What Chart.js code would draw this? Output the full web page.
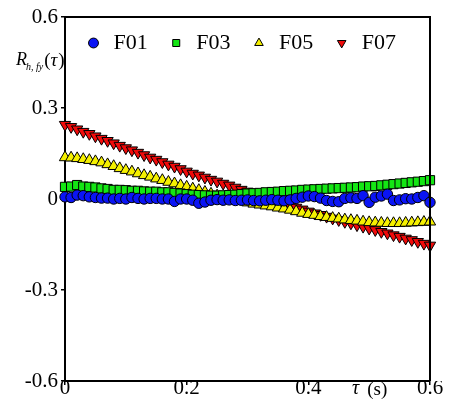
<!DOCTYPE html>
<html>
<head>
<meta charset="utf-8">
<script src="https://cdn.jsdelivr.net/npm/chart.js@4/dist/chart.umd.min.js"></script>
<style>
html,body{margin:0;padding:0;background:#fff;}
canvas{display:block;}
</style>
</head>
<body>
<canvas id="c" width="451" height="405"></canvas>
<script>
const tau = [0.00,0.01,0.02,0.03,0.04,0.05,0.06,0.07,0.08,0.09,0.10,0.11,0.12,0.13,0.14,0.15,0.16,0.17,0.18,0.19,0.20,
  0.21,0.22,0.23,0.24,0.25,0.26,0.27,0.28,0.29,0.30,0.31,0.32,0.33,0.34,0.35,0.36,0.37,0.38,0.39,0.40,
  0.41,0.42,0.43,0.44,0.45,0.46,0.47,0.48,0.49,0.50,0.51,0.52,0.53,0.54,0.55,0.56,0.57,0.58,0.59,0.60];

const F01 = [0.007,0.005,0.013,0.011,0.007,0.005,0.003,0.003,0.000,0.002,0.000,0.005,0.002,0.000,0.002,0.002,0.000,0.000,-0.008,0.000,0.000,
  -0.004,-0.014,-0.010,-0.004,-0.002,-0.004,-0.003,-0.005,-0.004,-0.003,-0.005,-0.006,-0.004,-0.002,-0.004,-0.006,-0.003,0.002,0.006,
  0.010,0.008,0.003,-0.005,-0.008,-0.009,0.002,0.004,0.002,0.011,-0.011,0.006,0.010,0.016,-0.005,-0.003,0.001,0.000,0.005,0.011,-0.011];

const F03 = [0.040,0.041,0.046,0.041,0.040,0.038,0.035,0.033,0.030,0.030,0.029,0.027,0.027,0.025,0.024,0.024,0.022,0.022,0.020,0.018,0.016,
  0.014,0.013,0.012,0.011,0.011,0.012,0.013,0.014,0.016,0.018,0.019,0.020,0.022,0.023,0.024,0.026,0.027,0.028,0.030,
  0.031,0.032,0.033,0.034,0.035,0.036,0.037,0.038,0.039,0.041,0.042,0.043,0.045,0.047,0.049,0.051,0.053,0.055,0.057,0.059,0.062];

const F05 = [0.137,0.136,0.134,0.131,0.128,0.124,0.120,0.114,0.108,0.101,0.095,0.090,0.084,0.078,0.073,0.067,0.062,0.056,0.051,0.045,0.040,
  0.034,0.029,0.023,0.017,0.011,0.006,0.001,-0.003,-0.008,-0.012,-0.016,-0.019,-0.022,-0.025,-0.029,-0.032,-0.036,-0.041,-0.046,
  -0.050,-0.053,-0.057,-0.060,-0.063,-0.065,-0.068,-0.070,-0.072,-0.075,-0.077,-0.078,-0.079,-0.080,-0.080,-0.080,-0.079,-0.078,-0.077,-0.076,-0.075];

const F07 = [0.245,0.238,0.230,0.222,0.215,0.207,0.199,0.192,0.184,0.176,0.168,0.161,0.153,0.145,0.137,0.130,0.122,0.114,0.107,0.099,0.091,
  0.084,0.078,0.071,0.064,0.058,0.051,0.045,0.038,0.031,0.025,0.018,0.012,0.005,-0.001,-0.008,-0.015,-0.021,-0.028,-0.034,
  -0.041,-0.047,-0.052,-0.058,-0.064,-0.069,-0.075,-0.080,-0.086,-0.091,-0.097,-0.102,-0.108,-0.113,-0.119,-0.124,-0.130,-0.135,-0.141,-0.147,-0.153];

const seriesNames = ['F01','F03','F05','F07'];
const yTicks = [-0.6,-0.3,0,0.3,0.6];
const xTicks = [0,0.2,0.4,0.6];

const FONT = "'Liberation Serif', 'Times New Roman', serif";

function pts(arr){ return arr.map((v,i)=>({x: tau[i], y: v})); }

const styles = [
  {pointStyle:'circle', radius:5.2, color:'#0a14f5', rot:0},
  {pointStyle:'rect', radius:6.5, color:'#14e614', rot:0},
  {pointStyle:'triangle', radius:6.5, color:'#f5f000', rot:0},
  {pointStyle:'triangle', radius:6.5, color:'#f00a0a', rot:180}
];
const allData = [F01,F03,F05,F07];

const datasets = allData.map((d,i)=>({
  label: seriesNames[i],
  data: pts(d),
  showLine: false,
  pointStyle: styles[i].pointStyle,
  pointRadius: styles[i].radius,
  pointRotation: styles[i].rot,
  pointBackgroundColor: styles[i].color,
  backgroundColor: styles[i].color,
  pointBorderColor: '#000',
  borderColor: '#000',
  pointBorderWidth: 1,
  borderWidth: 1,
  clip: false
}));

const framePlugin = {
  id: 'frame',
  beforeLayout(chart){
    const lg = chart.legend;
    if (lg && !lg._zeroPatched) {
      const f = lg.fit.bind(lg);
      lg.fit = function(){ f(); this.height = 0; };
      lg._zeroPatched = true;
    }
  },
  afterLayout(chart){
    const lg = chart.legend;
    if (lg) { lg.top -= 10; lg.height = 70; lg.bottom = lg.top + 70; }
  },
  afterDraw(chart){
    const {ctx, chartArea: a} = chart;
    ctx.save();
    ctx.strokeStyle = '#000';
    ctx.lineWidth = 2;
    ctx.beginPath();
    ctx.moveTo(a.left, a.top); ctx.lineTo(a.right, a.top); ctx.lineTo(a.right, a.bottom);
    ctx.stroke();
    // y-axis title R_{h,fy}(τ)
    ctx.fillStyle = '#000';
    ctx.textBaseline = 'alphabetic';
    ctx.textAlign = 'left';
    let x = 16;
    ctx.font = "italic 18px " + FONT;
    ctx.fillText('R', x, 65); x += ctx.measureText('R').width - 1;
    ctx.font = "italic 10px " + FONT;
    ctx.fillText('h, fy', x, 70); x += ctx.measureText('h, fy').width + 1;
    ctx.font = "19px " + FONT;
    ctx.fillText('(', x, 66); x += ctx.measureText('(').width;
    ctx.font = "italic 19px " + FONT;
    ctx.fillText('τ', x, 66); x += ctx.measureText('τ').width + 1;
    ctx.font = "19px " + FONT;
    ctx.fillText(')', x, 66);
    // x-axis title τ (s)
    let xx = 352;
    ctx.font = "italic 20px " + FONT;
    ctx.fillText('τ', xx, 394); xx += ctx.measureText('τ').width + 8;
    ctx.font = "19px " + FONT;
    ctx.fillText('(s)', xx, 395);
    ctx.restore();
  }
};

new Chart(document.getElementById('c'), {
  type: 'scatter',
  data: { datasets },
  options: {
    responsive: false,
    animation: false,
    layout: { padding: { top: 17, right: 21, left: 0, bottom: 0 } },
    plugins: {
      tooltip: { enabled: false },
      legend: {
        position: 'top',
        align: 'start',
        fullSize: false,
        labels: {
          usePointStyle: true,
          boxHeight: 7,
          boxWidth: 7,
          padding: 25,
          color: '#000',
          font: { family: FONT, size: 22 },
          generateLabels(chart){
            const items = Chart.defaults.plugins.legend.labels.generateLabels(chart);
            return items.map(it => Object.assign(it, { text: ' ' + it.text, lineWidth: 1, strokeStyle: '#000' }));
          }
        }
      }
    },
    scales: {
      x: {
        type: 'linear',
        min: 0, max: 0.6,
        afterBuildTicks(s){ s.ticks = xTicks.map(v=>({value:v})); },
        afterFit(s){ s.height = 24; },
        border: { color: '#000', width: 2 },
        grid: { drawOnChartArea: false, drawTicks: true, tickLength: 4, color: '#000', lineWidth: 1.5 },
        ticks: {
          color: '#000', padding: -9, maxRotation: 0,
          font: { family: FONT, size: 21 },
          callback: v => String(Math.round(v*10)/10)
        }
      },
      y: {
        type: 'linear',
        min: -0.6, max: 0.6,
        afterBuildTicks(s){ s.ticks = yTicks.map(v=>({value:v})); },
        afterFit(s){ s.width = 65; },
        border: { color: '#000', width: 2 },
        grid: { drawOnChartArea: false, drawTicks: true, tickLength: 4, color: '#000', lineWidth: 1.5 },
        ticks: {
          color: '#000', padding: 3,
          font: { family: FONT, size: 21 },
          callback: v => String(Math.round(v*10)/10)
        }
      }
    }
  },
  plugins: [framePlugin]
});
</script>
</body>
</html>
